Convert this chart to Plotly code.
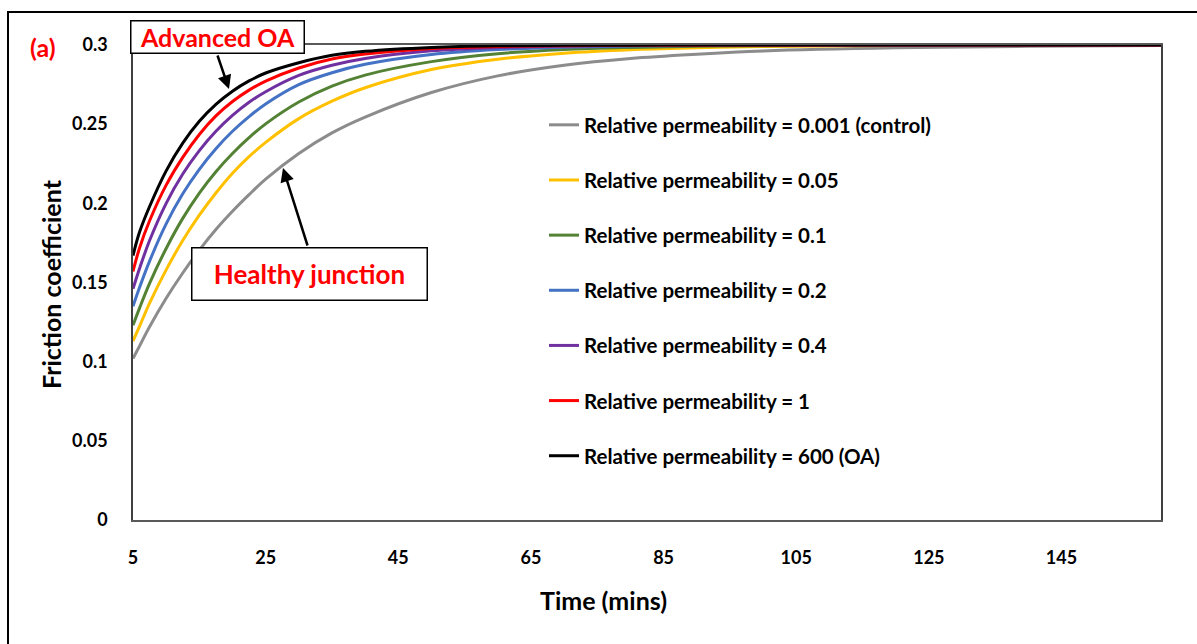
import plotly.graph_objects as go

# ---- data ----
time_mins = [5, 6, 7.5, 10, 12.5, 15, 17.5, 20, 22.5, 25, 30, 35, 40, 50, 60, 70, 80, 90, 100, 120, 140, 160]

fc_control_0001 = [0.102, 0.110, 0.122, 0.140, 0.156, 0.1705, 0.1835, 0.195, 0.2055, 0.2153, 0.2315, 0.2445, 0.2545,
                   0.270, 0.2805, 0.2872, 0.2915, 0.2942, 0.2962, 0.2982, 0.2992, 0.2997]
fc_005 = [0.113, 0.1225, 0.137, 0.158, 0.1765, 0.1925, 0.2065, 0.219, 0.2295, 0.2385, 0.2535, 0.2645, 0.273,
          0.2845, 0.291, 0.2948, 0.297, 0.2982, 0.299, 0.2997, 0.2999, 0.300]
fc_01 = [0.123, 0.134, 0.1495, 0.1715, 0.1905, 0.2065, 0.220, 0.2315, 0.2415, 0.2502, 0.264, 0.274, 0.281,
         0.2895, 0.2945, 0.2972, 0.2985, 0.2992, 0.2996, 0.2999, 0.300, 0.300]
fc_02 = [0.135, 0.147, 0.1635, 0.187, 0.206, 0.2215, 0.2345, 0.2455, 0.2548, 0.2628, 0.275, 0.2825, 0.2878,
         0.294, 0.2971, 0.2986, 0.2993, 0.2997, 0.2998, 0.300, 0.300, 0.300]
fc_04 = [0.146, 0.159, 0.1765, 0.200, 0.2185, 0.2333, 0.2455, 0.2555, 0.2638, 0.2705, 0.2808, 0.2872, 0.2915,
         0.2963, 0.2984, 0.2993, 0.2997, 0.2999, 0.300, 0.300, 0.300, 0.300]
fc_1 = [0.157, 0.172, 0.189, 0.2115, 0.229, 0.2435, 0.2552, 0.2643, 0.2715, 0.2772, 0.2855, 0.2912, 0.2943,
        0.2978, 0.2991, 0.2996, 0.2998, 0.2999, 0.300, 0.300, 0.300, 0.300]
fc_600_OA = [0.167, 0.182, 0.198, 0.2205, 0.238, 0.2518, 0.2625, 0.2708, 0.2773, 0.2823, 0.2888, 0.2935, 0.296,
             0.2985, 0.2995, 0.2998, 0.2999, 0.300, 0.300, 0.300, 0.300, 0.300]

series_names = [
    "Relative permeability = 0.001 (control)",
    "Relative permeability = 0.05",
    "Relative permeability = 0.1",
    "Relative permeability = 0.2",
    "Relative permeability = 0.4",
    "Relative permeability = 1",
    "Relative permeability = 600 (OA)",
]
series_values = [fc_control_0001, fc_005, fc_01, fc_02, fc_04, fc_1, fc_600_OA]
series_colors = ["#8C8C8C", "#FFC000", "#548235", "#4472C4", "#7030A0", "#FF0000", "#000000"]

x_ticks = [5, 25, 45, 65, 85, 105, 125, 145]
y_ticks = [0, 0.05, 0.1, 0.15, 0.2, 0.25, 0.3]
y_tick_labels = ["0", "0.05", "0.1", "0.15", "0.2", "0.25", "0.3"]

FONT = "Lato, 'Open Sans', sans-serif"

fig = go.Figure()
for i, (name, vals, col) in enumerate(zip(series_names, series_values, series_colors)):
    fig.add_trace(go.Scatter(
        x=time_mins, y=vals, name=name, mode="lines",
        line=dict(color=col, width=3, shape="spline", smoothing=1.0),
        legendgroup=f"g{i}",
    ))

# plot-area geometry in pixels (for paper conversions)
L, R, T, B = 133, 1161, 45, 520
W, H = R - L, B - T


def px(xp):
    return (xp - L) / W


def py(yp):
    return (B - yp) / H


fig.update_layout(
    width=1197, height=644,
    margin=dict(l=L, r=1197 - R, t=T, b=644 - B),
    paper_bgcolor="white", plot_bgcolor="white",
    font=dict(family=FONT, color="black", size=18, weight="bold"),
    showlegend=True,
    legend=dict(
        x=px(544), y=py(105), xanchor="left", yanchor="top",
        bgcolor="rgba(0,0,0,0)", borderwidth=0,
        font=dict(family=FONT, size=20.5, color="black", weight="bold"),
        tracegroupgap=25.5, itemwidth=30,
    ),
    xaxis=dict(
        range=[5, 160], tickvals=x_ticks, ticks="", showgrid=False, zeroline=False,
        showline=True, linecolor="#595959", linewidth=1.5, mirror=True,
        ticklabelstandoff=21, tickfont=dict(size=18, weight="bold"),
    ),
    yaxis=dict(
        range=[0, 0.3], tickvals=y_ticks, ticktext=y_tick_labels, ticks="",
        showgrid=False, zeroline=False,
        showline=True, linecolor="#404040", linewidth=1.5, mirror=True,
        ticklabelstandoff=20, tickfont=dict(size=18, weight="bold"),
    ),
)

# outer frame
fig.add_shape(type="rect", xref="paper", yref="paper",
              x0=px(8), x1=px(1205), y0=py(660), y1=py(12),
              line=dict(color="black", width=2), fillcolor="rgba(0,0,0,0)", layer="below")

# axis titles and panel label
fig.add_annotation(text="Time (mins)", xref="paper", yref="paper", x=px(603), y=py(600),
                   showarrow=False, font=dict(family=FONT, size=25, weight="bold"),
                   xanchor="center", yanchor="middle")
fig.add_annotation(text="Friction coefficient", xref="paper", yref="paper", x=px(51), y=py(284),
                   showarrow=False, textangle=-90,
                   font=dict(family=FONT, size=25, weight="bold"),
                   xanchor="center", yanchor="middle")
fig.add_annotation(text="(a)", xref="paper", yref="paper", x=px(43), y=py(47),
                   showarrow=False, font=dict(family=FONT, size=25, color="#FF0000", weight="bold"),
                   xanchor="center", yanchor="middle")

# callout boxes
fig.add_annotation(text="Advanced OA", xref="paper", yref="paper", x=px(217), y=py(37),
                   showarrow=False, font=dict(family=FONT, size=25, color="#FF0000", weight="bold"),
                   xanchor="center", yanchor="middle", bgcolor="white",
                   bordercolor="black", borderwidth=1.5, borderpad=0, width=172, height=31)
fig.add_annotation(text="Healthy junction", xref="paper", yref="paper", x=px(309.5), y=py(274),
                   showarrow=False, font=dict(family=FONT, size=26, color="#FF0000", weight="bold"),
                   xanchor="center", yanchor="middle", bgcolor="white",
                   bordercolor="black", borderwidth=1.5, borderpad=0, width=234, height=51)

# arrows
fig.add_annotation(text="", xref="paper", yref="paper", x=px(229), y=py(89),
                   ax=217 - 229, ay=54 - 89, showarrow=True,
                   arrowhead=2, arrowsize=1.1, arrowwidth=2.5, arrowcolor="black")
fig.add_annotation(text="", xref="paper", yref="paper", x=px(283), y=py(168),
                   ax=308 - 283, ay=247 - 168, showarrow=True,
                   arrowhead=2, arrowsize=1.1, arrowwidth=2.5, arrowcolor="black")

fig.write_html("out.html")
